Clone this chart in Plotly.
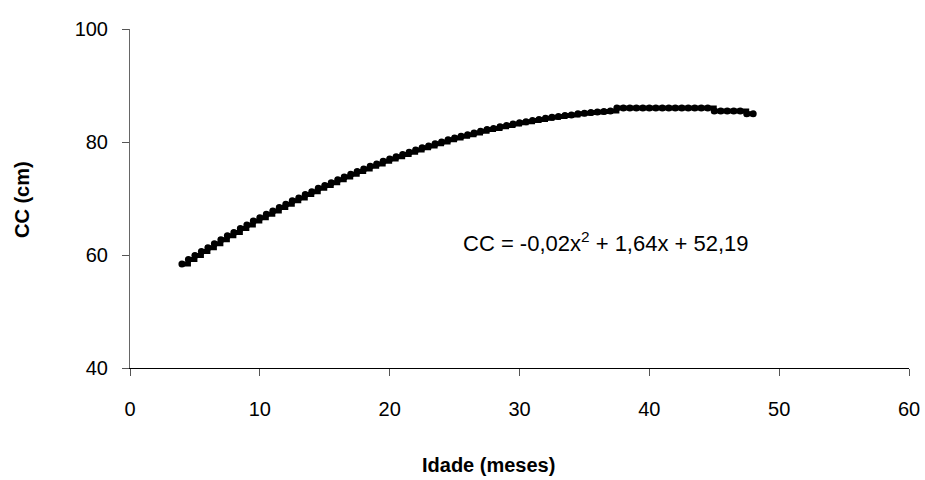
import plotly.graph_objects as go

# Age (months) and waist circumference CC (cm)
idade = [4.0, 4.5, 5.0, 5.5, 6.0, 6.5, 7.0, 7.5, 8.0, 8.5, 9.0, 9.5, 10.0, 10.5,
         11.0, 11.5, 12.0, 12.5, 13.0, 13.5, 14.0, 14.5, 15.0, 15.5, 16.0, 16.5,
         17.0, 17.5, 18.0, 18.5, 19.0, 19.5, 20.0, 20.5, 21.0, 21.5, 22.0, 22.5,
         23.0, 23.5, 24.0, 24.5, 25.0, 25.5, 26.0, 26.5, 27.0, 27.5, 28.0, 28.5,
         29.0, 29.5, 30.0, 30.5, 31.0, 31.5, 32.0, 32.5, 33.0, 33.5, 34.0, 34.5,
         35.0, 35.5, 36.0, 36.5, 37.0, 37.5, 38.0, 38.5, 39.0, 39.5, 40.0, 40.5,
         41.0, 41.5, 42.0, 42.5, 43.0, 43.5, 44.0, 44.5, 45.0, 45.5, 46.0, 46.5,
         47.0, 47.5, 48.0]
cc = [58.4, 59.2, 59.9, 60.6, 61.3, 62.0, 62.7, 63.4, 64.0, 64.7, 65.3, 66.0,
      66.6, 67.2, 67.8, 68.4, 69.0, 69.6, 70.1, 70.7, 71.2, 71.8, 72.3, 72.8,
      73.3, 73.8, 74.3, 74.8, 75.2, 75.7, 76.1, 76.6, 77.0, 77.4, 77.8, 78.2,
      78.6, 79.0, 79.3, 79.7, 80.0, 80.4, 80.7, 81.0, 81.3, 81.6, 81.9, 82.2,
      82.4, 82.7, 82.9, 83.2, 83.4, 83.6, 83.8, 84.0, 84.2, 84.4, 84.5, 84.7,
      84.8, 85.0, 85.1, 85.2, 85.3, 85.4, 85.5, 86.0, 86.0, 86.0, 86.0, 86.0,
      86.0, 86.0, 86.0, 86.0, 86.0, 86.0, 86.0, 86.0, 86.0, 86.0, 85.5, 85.5,
      85.5, 85.5, 85.5, 85.0, 85.0]

x_ticks = [0, 10, 20, 30, 40, 50, 60]
x_tick_labels = ["0", "10", "20", "30", "40", "50", "60"]
y_ticks = [40, 60, 80, 100]
y_tick_labels = ["40", "60", "80", "100"]

equation = "CC = -0,02x<sup>2</sup> + 1,64x + 52,19"

FONT = "Liberation Sans, Arial, sans-serif"

fig = go.Figure()
fig.add_trace(go.Scatter(
    x=idade, y=cc, mode="lines+markers",
    line=dict(color="black", width=5, shape="hv"),
    marker=dict(color="black", size=7, line=dict(width=0)),
    showlegend=False, hoverinfo="x+y",
))

fig.update_layout(
    width=925, height=480,
    margin=dict(l=130, r=16, t=29, b=112, autoexpand=False),
    paper_bgcolor="white", plot_bgcolor="white",
    font=dict(family=FONT, size=20, color="black"),
    xaxis=dict(
        range=[0, 60], tickvals=x_ticks, ticktext=x_tick_labels,
        showgrid=False, zeroline=False, automargin=False,
        showline=True, linecolor="black", linewidth=1,
        ticks="outside", ticklen=7, tickcolor="#555555", tickwidth=1,
        ticklabelstandoff=16,
        tickfont=dict(family=FONT, size=20, color="black"),
    ),
    yaxis=dict(
        range=[40, 100], tickvals=y_ticks, ticktext=y_tick_labels,
        showgrid=False, zeroline=False, automargin=False,
        showline=True, linecolor="#666666", linewidth=1,
        ticks="outside", ticklen=7, tickcolor="#555555", tickwidth=1,
        ticklabelstandoff=10,
        tickfont=dict(family=FONT, size=20, color="black"),
    ),
    annotations=[
        dict(text=equation, xref="paper", yref="paper",
             x=(606 - 130) / 779, y=(368 - 242) / 339,
             xanchor="center", yanchor="middle", showarrow=False,
             font=dict(family=FONT, size=22, color="black")),
        dict(text="<b>Idade (meses)</b>", xref="paper", yref="paper",
             x=(488 - 130) / 779, y=-(465 - 368) / 339,
             xanchor="center", yanchor="middle", showarrow=False,
             font=dict(family=FONT, size=20, color="black")),
        dict(text="<b>CC (cm)</b>", xref="paper", yref="paper",
             x=-(130 - 22) / 779, y=(368 - 200) / 339, textangle=-90,
             xanchor="center", yanchor="middle", showarrow=False,
             font=dict(family=FONT, size=20, color="black")),
    ],
)

fig.write_html("out.html")
